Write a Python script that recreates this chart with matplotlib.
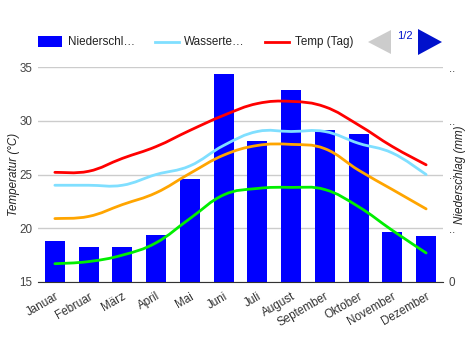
import matplotlib.pyplot as plt
import numpy as np
from matplotlib.path import Path
from matplotlib.patches import PathPatch, Rectangle, Polygon
from matplotlib.lines import Line2D
from matplotlib.transforms import offset_copy

plt.rcParams['font.family'] = ['Liberation Sans', 'DejaVu Sans']

months = ['Januar', 'Februar', 'März', 'April', 'Mai', 'Juni', 'Juli',
          'August', 'September', 'Oktober', 'November', 'Dezember']
niederschlag = [76, 65, 65, 87, 192, 387, 262, 357, 283, 275, 93, 86]
wasser = [24.0, 24.0, 24.0, 25.0, 25.8, 27.7, 29.0, 29.0, 29.0, 27.9, 27.0, 25.0]
temp_tag = [25.2, 25.3, 26.5, 27.6, 29.1, 30.5, 31.6, 31.8, 31.3, 29.6, 27.6, 25.9]
temp_nacht = [20.9, 21.1, 22.2, 23.3, 25.1, 26.8, 27.7, 27.8, 27.4, 25.4, 23.6, 21.8]
sonne = [16.7, 16.9, 17.5, 18.65, 20.9, 23.1, 23.7, 23.8, 23.6, 22.0, 19.8, 17.7]

W, H = 470, 350
fig = plt.figure(figsize=(W / 100, H / 100), dpi=100)
TXT = '#444444'
FS = 8.4


def px(x, y):
    return x / W, 1 - y / H


def smooth_path(xs, ys, k=0.2):
    pts = np.column_stack([xs, ys]).astype(float)
    verts = [pts[0]]
    codes = [Path.MOVETO]
    n = len(pts)
    for i in range(n - 1):
        p0 = pts[max(i - 1, 0)]
        p1 = pts[i]
        p2 = pts[i + 1]
        p3 = pts[min(i + 2, n - 1)]
        c1 = p1 + (p2 - p0) * k
        c2 = p2 - (p3 - p1) * k
        verts += [c1, c2, p2]
        codes += [Path.CURVE4] * 3
    return Path(verts, codes)


x0, x1, yt, yb = 38, 443, 67, 282
ax2 = fig.add_axes([x0 / W, 1 - yb / H, (x1 - x0) / W, (yb - yt) / H])
ax = ax2.twinx()
ax.yaxis.tick_left()
ax.yaxis.set_label_position('left')
ax2.yaxis.tick_right()
ax2.yaxis.set_label_position('right')

x = np.arange(len(months))
ax2.bar(x, niederschlag, width=0.59, color='#0000ff', zorder=2)
ax2.set_ylim(0, 400)
ax2.set_yticks([0, 100, 200, 300, 400])
ax2.set_yticklabels(['0', '..', '..', '..', '..'])
ax2.grid(axis='y', color='#cccccc', linewidth=1, zorder=0)
ax2.set_axisbelow(True)
ax2.set_ylabel('Niederschlag (mm)', fontsize=FS, style='italic', color='#222222',
               va='center')
ax2.yaxis.set_label_coords((460 - x0) / (x1 - x0), 0.5)

for vals, col in [(sonne, '#00ee00'), (temp_nacht, '#ffa500'),
                  (wasser, '#80dfff'), (temp_tag, '#ff0000')]:
    ax.add_patch(PathPatch(smooth_path(x, vals), facecolor='none',
                           edgecolor=col, linewidth=2, capstyle='round'))
ax.set_ylim(15, 35)
ax.set_yticks([15, 20, 25, 30, 35])
ax.set_xlim(-0.5, len(months) - 0.5)
ax.set_ylabel('Temperatur (°C)', fontsize=FS, style='italic', color='#222222',
              va='center')
ax.yaxis.set_label_coords((14 - x0) / (x1 - x0), 0.5)
ax.set_xticks(x)
ax2.set_xticks(x)
ax2.set_xticklabels(months, rotation=30, ha='right', rotation_mode='anchor')
for lab in ax2.get_xticklabels():
    lab.set_transform(offset_copy(lab.get_transform(), fig=fig, x=-5, y=0, units='dots'))

for a in (ax, ax2):
    for s in a.spines.values():
        s.set_visible(False)
    a.tick_params(length=0, labelsize=FS, colors=TXT, pad=4)
ax.spines['bottom'].set_visible(True)
ax.spines['bottom'].set_color('#333333')
ax.tick_params(axis='x', labelbottom=False)
ax2.tick_params(axis='x', pad=6, colors='#333333')

# legend
fig.add_artist(Rectangle(px(38, 47), 24 / W, 11 / H, transform=fig.transFigure,
                         facecolor='#0000ff', edgecolor='none'))
fig.text(*px(68, 42), 'Niederschl…', fontsize=FS, color='#222222', va='center')
fig.add_artist(Line2D([155 / W, 179 / W], [1 - 42 / H] * 2, transform=fig.transFigure,
                      color='#80dfff', linewidth=2))
fig.text(*px(184, 42), 'Wasserte…', fontsize=FS, color='#222222', va='center')
fig.add_artist(Line2D([265 / W, 289 / W], [1 - 42 / H] * 2, transform=fig.transFigure,
                      color='#ff0000', linewidth=2))
fig.text(*px(295, 42), 'Temp (Tag)', fontsize=FS, color='#222222', va='center')
fig.add_artist(Polygon([px(368, 42), px(391, 30), px(391, 54)], closed=True,
                       transform=fig.transFigure, facecolor='#cccccc', edgecolor='none'))
fig.add_artist(Polygon([px(442, 42), px(418, 29), px(418, 55)], closed=True,
                       transform=fig.transFigure, facecolor='#0011cc', edgecolor='none'))
fig.text(*px(405, 36), '1/2', fontsize=8, color='#0011cc', ha='center', va='center')

fig.savefig('out.png', dpi=100)
